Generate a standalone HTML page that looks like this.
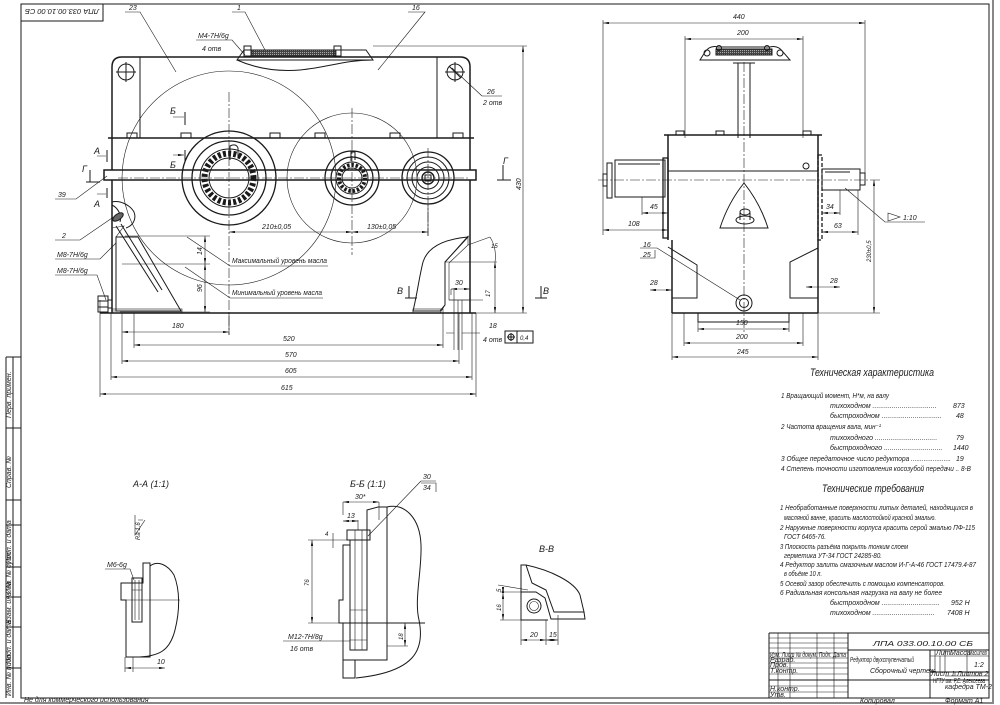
<!DOCTYPE html>
<html><head><meta charset="utf-8">
<style>
html,body{margin:0;padding:0;background:#fff;}
svg{display:block;}
.l{stroke:#1a1a1a;stroke-width:1;fill:none;}
.k{stroke:#1a1a1a;stroke-width:1.5;fill:none;}
.t{stroke:#1a1a1a;stroke-width:.6;fill:none;}
.c{stroke:#1a1a1a;stroke-width:.6;fill:none;stroke-dasharray:10 2 2 2;}
.d{stroke:#1a1a1a;stroke-width:.6;fill:none;marker-start:url(#a);marker-end:url(#a);}
text{font-family:"Liberation Sans","DejaVu Sans",sans-serif;font-style:italic;fill:#1a1a1a;font-size:7px;}
.s{font-size:6px;}
.h{font-size:11px;}
.m{font-size:9px;}
</style></head><body>
<svg width="1000" height="705" viewBox="0 0 1000 705" xmlns="http://www.w3.org/2000/svg">
<defs>
<marker id="a" viewBox="0 0 10 4" refX="10" refY="2" markerWidth="6" markerHeight="2.4" orient="auto-start-reverse" markerUnits="userSpaceOnUse"><path d="M0,0L10,2L0,4z" fill="#1a1a1a"/></marker>
<pattern id="h" width="3" height="3" patternUnits="userSpaceOnUse" patternTransform="rotate(45)"><line x1="0" y1="0" x2="0" y2="3" stroke="#1a1a1a" stroke-width=".7"/></pattern>
<pattern id="o" width="8" height="5" patternUnits="userSpaceOnUse"><line x1="1" y1="2.5" x2="6" y2="2.5" stroke="#333" stroke-width=".7"/></pattern>
<pattern id="mesh" width="2" height="2" patternUnits="userSpaceOnUse"><rect width="2" height="2" fill="#444"/><rect width="1" height="1" fill="#aaa"/></pattern>
</defs>

<!-- page frame -->
<rect x="0" y="0" width="1000" height="705" fill="#fff"/>
<path d="M993,0V703H0" stroke="#888" stroke-width="2" fill="none"/>
<path d="M21,4H989V698H21Z" class="l"/>
<rect x="21" y="4" width="82" height="17" class="l"/>
<text x="62" y="16" transform="rotate(180 62 12.5)" text-anchor="middle" font-size="9" textLength="74" lengthAdjust="spacingAndGlyphs">ЛПА 033.00.10.00 СБ</text>

<!-- left strip -->
<g class="l">
<path d="M6,357H21M6,357V698M13,357V698M6,428H21M6,500H21M6,525H21M6,567H21M6,597H21M6,627H21M6,668H21"/>
</g>
<text transform="translate(11,418) rotate(-90)" font-size="4">Перв. примен.</text>
<text transform="translate(11,488) rotate(-90)" font-size="4">Справ. №</text>
<text transform="translate(11,564) rotate(-90)" font-size="3.5">Подп. и дата</text>
<text transform="translate(11,594) rotate(-90)" font-size="3.5">Инв. № дубл.</text>
<text transform="translate(11,624) rotate(-90)" font-size="3.5">Взам. инв. №</text>
<text transform="translate(11,664) rotate(-90)" font-size="3.5">Подп. и дата</text>
<text transform="translate(11,696) rotate(-90)" font-size="3.5">Инв. № подл.</text>
<text x="24" y="702" font-size="4">Не для коммерческого использования</text>

<!-- ============ FRONT VIEW ============ -->
<g class="k">
<path d="M112,138V67Q112,57 122,57H460Q470,57 470,67V138"/>
<path d="M108,138H474"/>
<path d="M104,170H476V180H104Z"/>
<path d="M112,138V170M470,138V170M112,180V313M470,180V313"/>
<path d="M100,313H476"/>
</g>
<g class="l">
<path d="M140,57V138M437,57V138"/>
<circle cx="126" cy="72" r="8"/><path d="M116,72H136M126,62V82"/>
<circle cx="455" cy="72" r="8"/><path d="M445,72H465M455,62V82M449,66L461,78"/>
</g>
<!-- flange bolts -->
<g class="l">
<rect x="127" y="133" width="10" height="5"/><rect x="181" y="133" width="10" height="5"/>
<rect x="270" y="133" width="10" height="5"/><rect x="315" y="133" width="10" height="5"/>
<rect x="390" y="133" width="10" height="5"/><rect x="453" y="133" width="10" height="5"/>
</g>
<!-- inspection cover -->
<g>
<path d="M237,60L244,50H366L373,60Z" fill="url(#h)" class="l"/>
<rect x="252" y="50" width="84" height="6" fill="url(#mesh)" stroke="#1a1a1a" stroke-width=".8"/>
<rect x="244" y="46" width="7" height="10" fill="#fff" class="l"/><rect x="334" y="46" width="7" height="10" fill="#fff" class="l"/>
<path d="M237,60C255,68 275,72 300,70C330,67 345,60 373,60" class="l"/>
<path d="M373,46H527" class="t"/>
</g>
<!-- gears -->
<circle cx="229" cy="178" r="107" class="t"/>
<circle cx="352" cy="178" r="65" class="t"/>
<g class="l">
<circle cx="229" cy="178" r="47" stroke-width="1.3"/>
<circle cx="229" cy="178" r="37" stroke-width="1.3"/>
<circle cx="229" cy="178" r="29"/>
<circle cx="229" cy="178" r="24.5" stroke-width="6" stroke-dasharray="3 2.2"/>
<circle cx="229" cy="178" r="20"/>
<path d="M230,160V146Q236,143 238,148V158" />
<circle cx="352" cy="178" r="27" stroke-width="1.3"/>
<circle cx="352" cy="178" r="21" stroke-width="1.3"/>
<circle cx="352" cy="178" r="16"/>
<circle cx="352" cy="178" r="13" stroke-width="4" stroke-dasharray="2.5 1.8"/>
<circle cx="352" cy="178" r="10"/>
<path d="M351,161V152H355V160"/>
<circle cx="428" cy="178" r="26" stroke-width="1.3"/>
<circle cx="428" cy="178" r="21"/>
<circle cx="428" cy="178" r="16"/>
<circle cx="428" cy="178" r="11"/>
<circle cx="428" cy="178" r="6" stroke-width="1.4"/>
<rect x="425" y="175" width="6" height="6"/>
</g>
<g class="c">
<path d="M229,92V335M352,108V255M428,148V236M118,178H470"/>
</g>
<!-- 210 / 130 -->
<path d="M229,232H352" class="d"/><path d="M352,232H428" class="d"/>
<path d="M428,205V236" class="t"/>
<text x="262" y="229">210±0,05</text><text x="367" y="229">130±0,05</text>

<!-- left boss, dipstick -->
<g class="l">
<path d="M112,202C120,200 130,205 134,212C137,220 132,226 126,228"/>
<path d="M112,205C118,208 122,215 120,222"/>
</g>
<path d="M116,237H138L181,311H116Z" fill="url(#o)" class="l"/>
<path d="M112,228L124,226L116,237V311H112Z" fill="url(#h)" class="t"/>
<rect x="112" y="309" width="70" height="4" fill="url(#h)" class="t"/>
<g class="l">
<path d="M116,226L158,292M121,224L162,290"/>
<ellipse cx="118" cy="217" rx="6" ry="3" transform="rotate(-35 118 217)" fill="#666"/>
</g>
<!-- left foot nut -->
<g class="l"><rect x="98" y="296" width="10" height="16"/><path d="M98,301H108M98,307H108M108,300H112M108,308H112"/></g>

<!-- right oil region -->
<path d="M413,311C417,295 419,278 423,262C428,246 446,239 468,237L445,262V305L440,311Z" fill="url(#o)" class="l"/>
<path d="M468,236V245L449,263V300H470V313H440L445,305V262Z" fill="url(#h)" class="t"/>
<rect x="413" y="309" width="30" height="4" fill="url(#h)" class="t"/>
<g class="t"><path d="M449,300H483M454,290V350M458,300V350M462,300V350M451,289V295"/></g>

<!-- oil level dims -->
<g class="t"><path d="M125,236H210M122,264H210M120,312H210"/></g>
<path d="M205,236V264" class="d"/><path d="M205,264V312" class="d"/>
<text transform="translate(202,255) rotate(-90)">14</text>
<text transform="translate(202,292) rotate(-90)">96</text>
<path d="M187,237L230,266H328M185,267L230,298H323" class="t"/>
<text x="232" y="263" textLength="95" lengthAdjust="spacingAndGlyphs">Максимальный уровень масла</text>
<text x="232" y="295" textLength="90" lengthAdjust="spacingAndGlyphs">Минимальный уровень масла</text>
<!-- right dims -->
<g class="t"><path d="M468,245L490,237M445,262H497"/><path d="M490,237Q497,248 495,262"/></g>
<path d="M495,262V313" class="d"/>
<text x="491" y="248" class="s">15</text>
<text transform="translate(490,297) rotate(-90)" class="s">17</text>
<path d="M451,289H470" class="d"/><text x="455" y="285">30</text>
<!-- 430 -->
<path d="M470,313H527" class="t"/>
<path d="M523,46V313" class="d"/>
<text transform="translate(521,190) rotate(-90)">430</text>

<!-- section marks -->
<g class="l">
<path d="M86,182H100M90,182V170"/><path d="M497,180H511M503,180V165"/>
<path d="M107,150V162M107,188V198M185,112V125M185,150V162"/>
<path d="M405,298H417M409,298V286M535,298H547M541,298V286"/>
</g>
<path d="M97,156H106M97,194H106M173,117H184M173,155H184" class="d" style="marker-start:none"/>
<text x="82" y="172" class="m">Г</text><text x="503" y="164" class="m">Г</text>
<text x="94" y="154" class="m">А</text><text x="94" y="207" class="m">А</text>
<text x="170" y="114" class="m">Б</text><text x="170" y="168" class="m">Б</text>
<text x="397" y="294" class="m">В</text><text x="543" y="294" class="m">В</text>

<!-- leaders -->
<g class="t">
<path d="M125,12H140L176,72M232,12H245L265,50M408,12H425L378,70"/>
<path d="M196,40H232L245,55"/>
<path d="M482,96H502M482,96L452,68"/>
<path d="M55,199H76L107,176M55,240H80L115,216M55,259H100L116,243M55,275H97L106,300"/>
</g>
<text x="129" y="10">23</text><text x="237" y="10">1</text><text x="412" y="10">16</text>
<text x="198" y="38">М4-7Н/6g</text><text x="202" y="51">4 отв</text>
<text x="487" y="94">26</text><text x="483" y="105">2 отв</text>
<text x="58" y="197">39</text><text x="62" y="238">2</text>
<text x="57" y="257">М8-7Н/6g</text><text x="57" y="273">М8-7Н/6g</text>

<!-- bottom dims -->
<g class="t"><path d="M100,300V397M111,313V380M122,313V364M134,313V348M443,313V348M459,313V364M472,313V380M476,313V397M229,313V335"/></g>
<path d="M122,332H229" class="d"/><text x="172" y="328">180</text>
<path d="M134,345H443" class="d"/><text x="283" y="341">520</text>
<path d="M122,361H459" class="d"/><text x="285" y="357">570</text>
<path d="M111,377H472" class="d"/><text x="285" y="373">605</text>
<path d="M100,394H476" class="d"/><text x="281" y="390">615</text>
<path d="M446,333H454M462,333H480" class="t"/>
<text x="489" y="328">18</text><text x="483" y="342">4 отв</text>
<g class="l"><rect x="505" y="331" width="28" height="12"/><path d="M517,331V343"/><circle cx="511" cy="337" r="3"/><path d="M507,337H515M511,333V341"/></g>
<text x="520" y="340" class="s">0,4</text>

<!-- ============ SIDE VIEW ============ -->
<g class="t"><path d="M603,20V235M865,20V180M685,36V138M803,36V138"/></g>
<path d="M603,23H865" class="d"/><text x="733" y="19">440</text>
<path d="M685,39H803" class="d"/><text x="737" y="35">200</text>
<!-- cover/stem -->
<g class="l">
<path d="M700,60L705,52Q710,45 718,47H770Q778,45 783,52L790,60Z"/>
<rect x="716" y="49" width="56" height="6" fill="url(#mesh)"/>
<circle cx="707" cy="53" r="3"/><circle cx="719" cy="48" r="2.5"/><circle cx="767" cy="48" r="2.5"/><circle cx="780" cy="53" r="3"/>
<path d="M733,63H755M738,63V138M750,63V138"/>
</g>
<g class="k">
<path d="M664,135H822M668,135V240M818,135V240M672,240V313M818,240V313M672,313H818"/>
</g>
<g class="l">
<rect x="676" y="131" width="8" height="4"/><rect x="716" y="131" width="8" height="4"/><rect x="803" y="131" width="8" height="4"/>
<path d="M668,171H818"/>
<rect x="615" y="160" width="50" height="37"/>
<path d="M618,164H660"/>
<rect x="607" y="163" width="5" height="35"/>
<rect x="603" y="174" width="4" height="12"/>
<rect x="663" y="158" width="5" height="80" stroke-width="1.3"/>
<rect x="818" y="155" width="4" height="85" stroke-width="1.3" stroke-dasharray="4 2"/>
<rect x="822" y="169" width="38" height="21"/>
<path d="M825,172H850"/>
<rect x="860" y="173" width="5" height="12"/>
<circle cx="806" cy="166" r="3"/>
<path d="M744,183Q728,203 720,228H768Q760,203 744,183Z"/>
<ellipse cx="745" cy="220" rx="9" ry="4"/><ellipse cx="745" cy="212" rx="5" ry="3"/><path d="M740,213V220M750,213V220"/>
<path d="M668,247L697,265V298H672M818,248L790,262V298H818"/>
<rect x="698" y="313" width="91" height="9"/>
<circle cx="744" cy="303" r="8"/><circle cx="744" cy="303" r="4.5"/>
</g>
<g class="c"><path d="M744,62V332M598,180H880"/></g>
<g class="t"><path d="M818,313H880M642,197V215M840,190V215M858,190V235M672,313V360M818,313V360M684,313V346M803,313V346M698,322V332M789,322V332"/></g>
<path d="M642,213H668" class="d"/><text x="650" y="209">45</text>
<path d="M603,230H668" class="d"/><text x="628" y="226">108</text>
<path d="M822,213H840" class="d"/><text x="826" y="209">34</text>
<path d="M822,232H858" class="d"/><text x="834" y="228">63</text>
<path d="M874,180V313" class="d"/><text transform="translate(871,262) rotate(-90)" class="s">230±0,5</text>
<path d="M698,329H789" class="d"/><text x="736" y="325">150</text>
<path d="M684,343H803" class="d"/><text x="736" y="339">200</text>
<path d="M672,357H818" class="d"/><text x="737" y="354">245</text>
<path d="M650,290H672" class="d"/><text x="650" y="285">28</text>
<path d="M806,287H840" class="d"/><text x="830" y="283">28</text>
<g class="t"><path d="M640,248H657L740,300M640,258H655V250M845,188L885,222H925"/><path d="M888,213L900,217L888,221Z"/></g>
<text x="643" y="247">16</text><text x="643" y="257">25</text>
<text x="903" y="220">1:10</text>

<!-- ============ TEXT BLOCKS ============ -->
<text x="810" y="376" class="h" textLength="124" lengthAdjust="spacingAndGlyphs">Техническая характеристика</text>
<text x="781" y="398" textLength="108" lengthAdjust="spacingAndGlyphs">1 Вращающий момент, Н*м,  на валу</text>
<text x="830" y="408">тихоходном .................................</text><text x="953" y="408">873</text>
<text x="830" y="418">быстроходном ...............................</text><text x="956" y="418">48</text>
<text x="781" y="429" textLength="100" lengthAdjust="spacingAndGlyphs">2 Частота вращения вала, мин⁻¹</text>
<text x="830" y="440">тихоходного ................................</text><text x="956" y="440">79</text>
<text x="830" y="450">быстроходного ..............................</text><text x="953" y="450">1440</text>
<text x="781" y="461" textLength="170" lengthAdjust="spacingAndGlyphs">3 Общее передаточное число редуктора ......................</text><text x="956" y="461">19</text>
<text x="781" y="471" textLength="190" lengthAdjust="spacingAndGlyphs">4 Степень точности изготовления косозубой передачи .. 8-В</text>
<text x="822" y="492" class="h" textLength="102" lengthAdjust="spacingAndGlyphs">Технические требования</text>
<text x="780" y="510" textLength="193" lengthAdjust="spacingAndGlyphs">1 Необработанные поверхности литых деталей, находящихся в</text>
<text x="784" y="520" textLength="152" lengthAdjust="spacingAndGlyphs">масляной ванне, красить маслостойкой красной эмалью.</text>
<text x="780" y="530" textLength="195" lengthAdjust="spacingAndGlyphs">2 Наружные поверхности корпуса красить серой эмалью ПФ-115</text>
<text x="784" y="539" textLength="42" lengthAdjust="spacingAndGlyphs">ГОСТ 6465-76.</text>
<text x="780" y="549" textLength="128" lengthAdjust="spacingAndGlyphs">3 Плоскость разъёма покрыть тонким слоем</text>
<text x="784" y="558" textLength="98" lengthAdjust="spacingAndGlyphs">герметика УТ-34 ГОСТ 24285-80.</text>
<text x="780" y="567" textLength="196" lengthAdjust="spacingAndGlyphs">4 Редуктор залить смазочным маслом И-Г-А-46 ГОСТ 17479.4-87</text>
<text x="784" y="576" textLength="38" lengthAdjust="spacingAndGlyphs">в объёме 10 л.</text>
<text x="780" y="586" textLength="165" lengthAdjust="spacingAndGlyphs">5 Осевой зазор обеспечить с помощью компенсаторов.</text>
<text x="780" y="595" textLength="162" lengthAdjust="spacingAndGlyphs">6 Радиальная консольная нагрузка на валу не более</text>
<text x="830" y="605">быстроходном ..............................</text><text x="951" y="605">952 Н</text>
<text x="830" y="615">тихоходном ................................</text><text x="947" y="615">7408 Н</text>

<!-- ============ TITLE BLOCK ============ -->
<g class="l">
<path d="M769,633H989M769,633V698M848,633V698M848,650H989M769,680H989M930,650V698M930,672H989"/>
</g>
<g class="t">
<path d="M769,638H848M769,643H848M769,648H848M769,653H848M769,658H848M769,663H848M769,668H848M769,674H848M769,686H848M769,692H848"/>
<path d="M778,633V698M790,633V698M817,633V698M834,633V698"/>
<path d="M930,656H989M935,650V672M940,656V672M945,650V672M967,650V672M945,676H989M955,672V676M968,672V676"/>
</g>
<text x="873" y="646" font-size="12" textLength="100" lengthAdjust="spacingAndGlyphs">ЛПА 033.00.10.00 СБ</text>
<text x="850" y="662" font-size="7" textLength="64" lengthAdjust="spacingAndGlyphs">Редуктор двухступенчатый</text>
<text x="870" y="673" font-size="5">Сборочный чертеж</text>
<text x="936" y="655" font-size="3">Лит.</text><text x="950" y="655" font-size="3">Масса</text><text x="969" y="655" font-size="3" textLength="18" lengthAdjust="spacingAndGlyphs">Масштаб</text>
<text x="974" y="667">1:2</text>
<text x="931" y="676" font-size="3">Лист 1</text><text x="957" y="676" font-size="3">Листов 2</text>
<text x="933" y="683" font-size="3" textLength="52" lengthAdjust="spacingAndGlyphs">НГТУ им. Р.Е. Алексеева</text><text x="945" y="689" font-size="3">кафедра ТМ-2</text>
<text x="770" y="657" font-size="2.8" textLength="76" lengthAdjust="spacingAndGlyphs">Изм. Лист  № докум.  Подп.  Дата</text>
<text x="770" y="662" font-size="3">Разраб.</text><text x="770" y="667" font-size="3">Пров.</text><text x="770" y="673" font-size="3">Т.контр.</text>
<text x="770" y="691" font-size="3">Н.контр.</text><text x="770" y="697" font-size="3">Утв.</text>
<text x="860" y="703" font-size="4">Копировал</text><text x="945" y="703" font-size="4">Формат  А1</text>

<!-- ============ SECTION A-A ============ -->
<text x="133" y="487" class="m">А-А (1:1)</text>
<g>
<path d="M143,563H150V657H126V600H121V583H143Z" fill="url(#h)" class="l"/>
<path d="M150,566C158,560 168,565 174,575C180,590 180,610 175,630C170,650 160,657 135,657" class="l"/>
<rect x="132" y="578" width="10" height="44" fill="#fff" class="l"/>
<path d="M135,580V620M139,580V620M132,590H142" class="t"/>
<path d="M126,600H180" class="t"/>
<path d="M135,515V535L145,520M138,520H143" class="t"/>
<text transform="translate(140,540) rotate(-90)" class="s">Ra 1,6</text>
<path d="M105,569H130L134,580" class="t"/><text x="107" y="567">М6-6g</text>
<path d="M125,657V672M133,657V672" class="t"/>
<path d="M125,668H165" class="d"/><text x="157" y="664">10</text>
</g>

<!-- ============ SECTION Б-Б ============ -->
<text x="350" y="487" class="m">Б-Б (1:1)</text>
<g>
<path d="M367,510L378,507H387V660H343V623H339V600H343V545H350V623H367Z" fill="url(#h)" class="l"/>
<path d="M343,660V678H355V660Z" fill="url(#h)" class="l"/>
<rect x="350" y="540" width="17" height="110" fill="#fff" class="l"/>
<path d="M355,540V650M362,540V650M350,610H367" class="t"/>
<rect x="347" y="530" width="23" height="10" fill="#fff" class="l"/>
<path d="M355,530V540M362,530V540M350,640H367" class="t"/>
<path d="M387,507C405,503 420,518 421,545C422,570 414,600 419,620C425,650 415,672 356,678" class="l"/>
<path d="M343,623H425" class="l"/>
<path d="M343,502V515M379,502V520M358,520V530" class="t"/>
<path d="M343,502H379" class="d"/><text x="355" y="499">30*</text>
<path d="M343,521H358" class="d"/><text x="347" y="518">13</text>
<path d="M308,540H347M308,623H343" class="t"/>
<path d="M312,540V623" class="d"/><text transform="translate(309,586) rotate(-90)" class="s">76</text>
<path d="M333,533V548" class="t"/><text x="325" y="536" class="s">4</text>
<path d="M387,646H408" class="t"/><path d="M405,623V646" class="d"/><text transform="translate(403,640) rotate(-90)" class="s">18</text>
<path d="M283,641H350" class="t"/><text x="288" y="639">М12-7Н/8g</text><text x="290" y="651">16 отв</text>
<path d="M421,481H436M421,481L368,536" class="t"/><text x="423" y="479">30</text><text x="423" y="490">34</text><path d="M421,483H436V492" class="t"/>
</g>

<!-- ============ SECTION В-В ============ -->
<text x="539" y="552" class="m">В-В</text>
<g>
<path d="M521,565H526L532,583L546,590L554,612H584L585,619H551L545,598L536,592H521Z" fill="url(#h)" class="l"/>
<path d="M526,565C550,570 575,582 580,595L584,612" class="l"/>
<path d="M521,592V620H548" class="l"/>
<circle cx="534" cy="606" r="7" class="l"/><circle cx="534" cy="606" r="4.5" class="t"/>
<path d="M498,585L528,590M500,592H522M500,620H521M521,620V645M546,620V645M558,615V645" class="t"/>
<path d="M503,587V593" class="d"/><path d="M503,593V620" class="d"/>
<text transform="translate(501,592) rotate(-90)" class="s">5</text>
<text transform="translate(501,611) rotate(-90)" class="s">16</text>
<path d="M521,640H546" class="d"/><path d="M546,640H558" class="d"/>
<text x="530" y="637">20</text><text x="549" y="637">15</text>
</g>
</svg>
</body></html>
